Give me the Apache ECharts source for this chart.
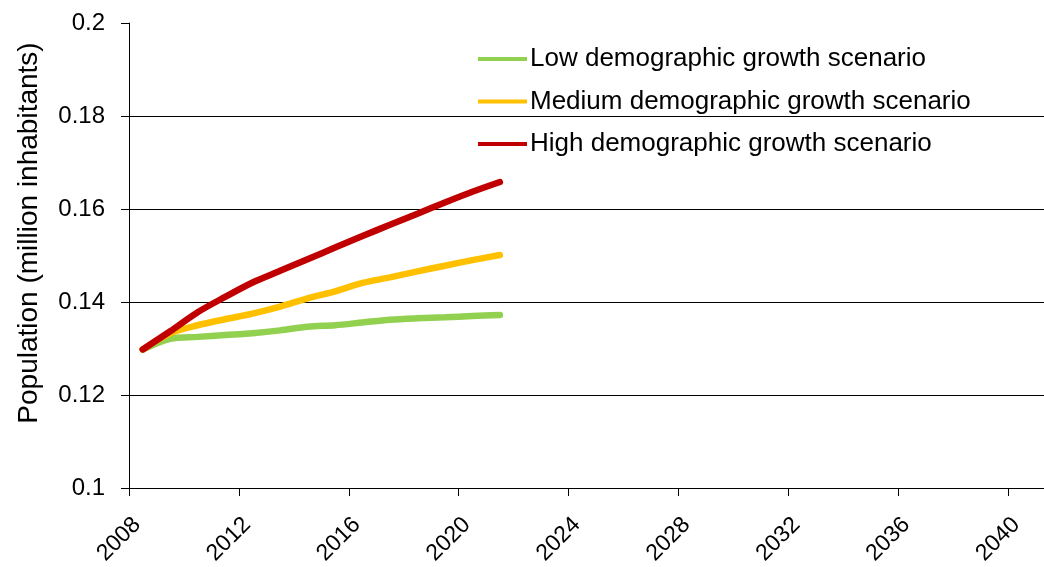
<!DOCTYPE html>
<html>
<head>
<meta charset="utf-8">
<script src="https://cdn.jsdelivr.net/npm/echarts@6/dist/echarts.min.js"></script>
<style>
html,body{margin:0;padding:0;background:#fff;overflow:hidden;}
#chart{width:1044px;height:567px;}
</style>
</head>
<body>
<div id="chart"></div>
<script>
const years = [2008.5, 2009.5, 2010.5, 2011.5, 2012.5, 2013.5, 2014.5, 2015.5, 2016.5, 2017.5, 2018.5, 2019.5, 2020.5, 2021.5];
const lowScenario = [0.1298, 0.1321, 0.1325, 0.1329, 0.1333, 0.1339, 0.1347, 0.1350, 0.1356, 0.1362, 0.1365, 0.1367, 0.1370, 0.1372];
const mediumScenario = [0.1298, 0.1333, 0.1350, 0.1363, 0.1375, 0.1390, 0.1408, 0.1423, 0.1441, 0.1453, 0.1466, 0.1478, 0.1490, 0.1501];
const highScenario = [0.1298, 0.1337, 0.1378, 0.1411, 0.1442, 0.1467, 0.1492, 0.1517, 0.1542, 0.1566, 0.1590, 0.1614, 0.1637, 0.1658];
const seriesNames = ['Low demographic growth scenario', 'Medium demographic growth scenario', 'High demographic growth scenario'];
const yAxisTitle = 'Population (million inhabitants)';

const pair = (vals) => years.map((y, i) => [y, vals[i]]);
const font = 'Liberation Sans, Arial, sans-serif';
const chart = echarts.init(document.getElementById('chart'), null, {renderer: 'canvas'});
chart.setOption({
  animation: false,
  backgroundColor: '#fff',
  grid: {left: 129, top: 23, bottom: 79, right: -74, containLabel: false, outerBoundsMode: 'none'},
  legend: {
    orient: 'vertical', left: 478, top: 46, padding: 0,
    itemWidth: 49, itemHeight: 4, itemGap: 16.5,
    icon: 'rect',
    textStyle: {fontFamily: font, fontSize: 26, color: '#000', padding: [0, 0, 0, -2]},
    data: seriesNames
  },
  xAxis: {
    type: 'value', min: 2008, max: 2044, interval: 4,
    axisLine: {lineStyle: {color: '#000', width: 1}},
    axisTick: {show: true, inside: false, length: 8, lineStyle: {color: '#000'}},
    splitLine: {show: false},
    axisLabel: {rotate: 45, margin: 25, align: 'right', verticalAlign: 'top', fontFamily: font, fontSize: 23, color: '#000', formatter: v => String(v)}
  },
  yAxis: {
    type: 'value', min: 0.1, max: 0.2, interval: 0.02,
    name: yAxisTitle, nameLocation: 'middle', nameGap: 86,
    nameTextStyle: {fontFamily: font, fontSize: 28, color: '#000', padding: [0, 0, 0, 45]},
    axisLine: {show: true, lineStyle: {color: '#000', width: 1}},
    axisTick: {show: true, inside: false, length: 8, lineStyle: {color: '#000'}},
    splitLine: {show: true, lineStyle: {color: ['#000', '#000', '#000', '#000', '#000', 'rgba(0,0,0,0)'], width: 1}},
    axisLabel: {margin: 24, fontFamily: font, fontSize: 24, color: '#000', formatter: v => String(+v.toFixed(2))}
  },
  series: [
    {name: seriesNames[0], type: 'line', data: pair(lowScenario), smooth: 0.3, symbol: 'none', lineStyle: {width: 6.5, color: '#92D050', cap: 'round'}, itemStyle: {color: '#92D050'}, z: 2},
    {name: seriesNames[1], type: 'line', data: pair(mediumScenario), smooth: 0.3, symbol: 'none', lineStyle: {width: 6.5, color: '#FFC000', cap: 'round'}, itemStyle: {color: '#FFC000'}, z: 3},
    {name: seriesNames[2], type: 'line', data: pair(highScenario), smooth: 0.3, symbol: 'none', lineStyle: {width: 6.5, color: '#C00000', cap: 'round'}, itemStyle: {color: '#C00000'}, z: 4}
  ]
});
</script>
</body>
</html>
